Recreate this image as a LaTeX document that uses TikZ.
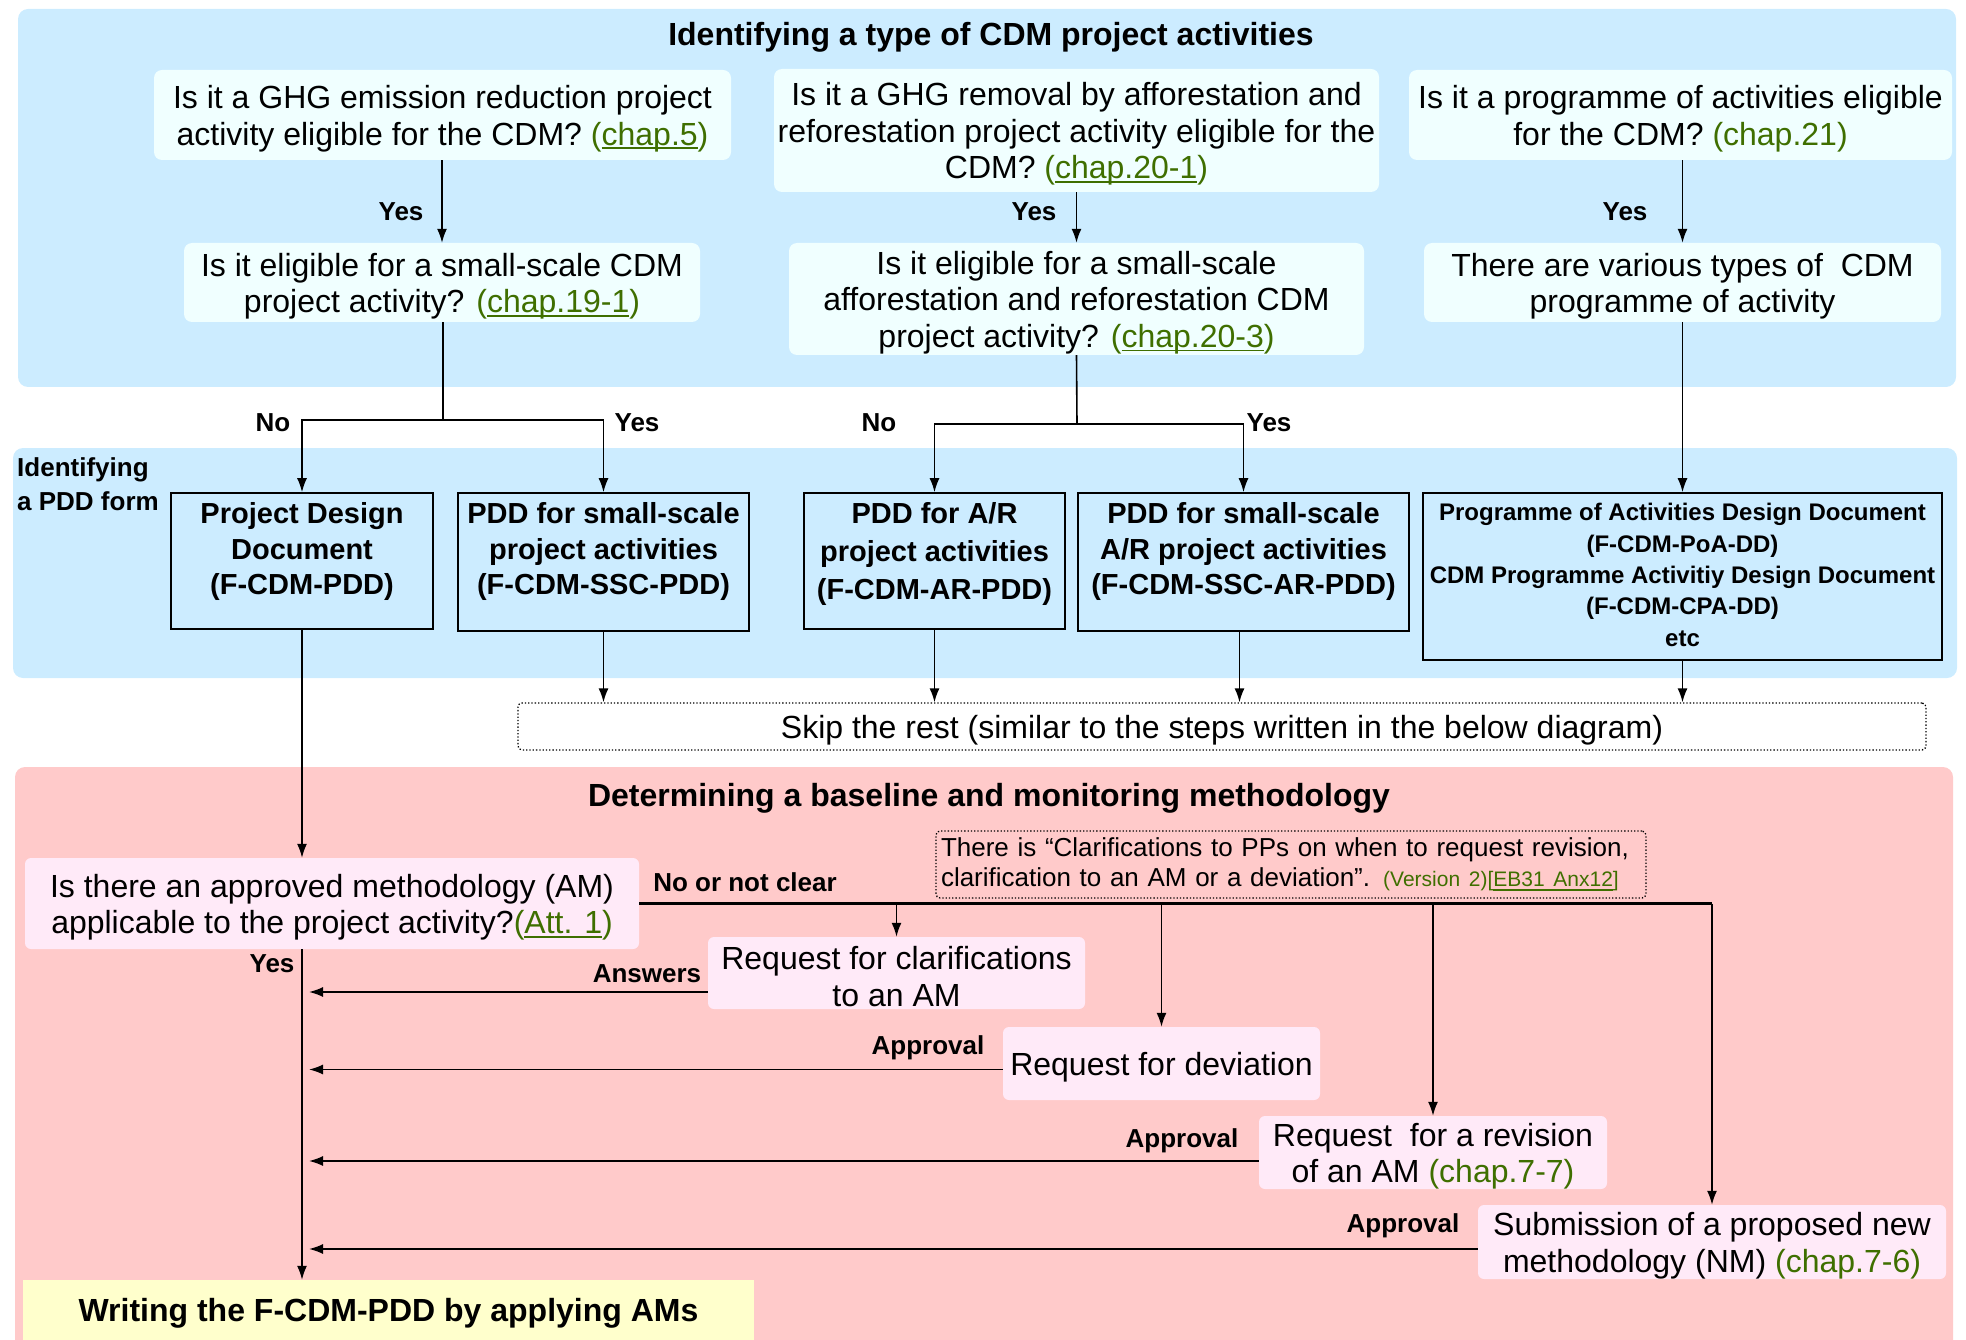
\documentclass[tikz,border=0pt]{standalone}
\usepackage{fontspec}
\setmainfont{Liberation Sans}
\usetikzlibrary{arrows.meta}
\definecolor{panelblue}{HTML}{CCECFF}
\definecolor{qbg}{HTML}{F0FFFF}
\definecolor{pinkbg}{HTML}{FFCACA}
\definecolor{pbox}{HTML}{FFEAF8}
\definecolor{ybox}{HTML}{FFFFCC}
\definecolor{grn}{HTML}{3F6F00}
\newcommand\fsz[2]{\fontsize{#1}{#2}\selectfont}
\newsavebox\ulbox
\newcommand\myul[1]{\sbox\ulbox{#1}\rlap{\rule[-4pt]{\wd\ulbox}{1.6pt}}\usebox\ulbox}
\newcommand\lnk[1]{{\color{grn}(\myul{#1})}}
\newcommand\plk[1]{{\color{grn}(#1)}}
% box with separately placed text: name, style, width, height, position, text
\newcommand\bx[6]{%
  \node[#2, minimum width=#3pt, minimum height=#4pt] (#1) at #5 {};
  \node[#2txt] (#1t) at ([yshift=-3.5pt]#1.center) {#6};}
\tikzset{
  qbox/.style={fill=qbg, rounded corners=8pt, inner sep=0pt},
  qboxtxt/.style={align=center, inner sep=0pt, font=\fsz{32}{36.5}},
  pddbox/.style={draw, line width=1.6pt, fill=panelblue, inner sep=0pt},
  pddtxt/.style={font=\bfseries\fsz{29}{35.5}, align=center, inner sep=0pt, anchor=north},
  pinkbox/.style={fill=pbox, rounded corners=6pt, inner sep=0pt},
  pinkboxtxt/.style={align=center, inner sep=0pt, font=\fsz{32}{36.5}},
  lbl/.style={font=\bfseries\fsz{26}{30}, inner sep=0pt},
  ttl/.style={font=\bfseries\fsz{32}{36}, inner sep=0pt},
  arr/.style={line width=1.6pt, -{Latex[length=14pt,width=10pt]}},
  ln/.style={line width=1.6pt},
  dotbox/.style={draw, dotted, line width=1.3pt, rounded corners=4pt, inner sep=0pt}
}
\begin{document}
\begin{tikzpicture}[x=1pt,y=-1pt]
\useasboundingbox (0,0) rectangle (1966,1340);
% panels
\fill[panelblue, rounded corners=10pt] (18,9) rectangle (1956,387);
\fill[panelblue, rounded corners=10pt] (13,448) rectangle (1957,678);
\begin{scope}
\clip (0,0) rectangle (1966,1340);
\fill[pinkbg, rounded corners=10pt] (15,767) rectangle (1953,1370);
\end{scope}
% titles
\node[ttl] (t1) at (991,37) {Identifying a type of CDM project activities};
\node[ttl] (t3) at (989,798) {Determining a baseline and monitoring methodology};
\node[lbl, anchor=north west, align=left, font=\bfseries\fsz{26}{34}] (t2) at (17,457) {Identifying\\a PDD form};
% top questions
\bx{a1}{qbox}{577}{90}{(442.5,115)}
  {Is it a GHG emission reduction project\\activity eligible for the CDM? \lnk{chap.5}}
\bx{a2}{qbox}{516}{79}{(442,282.5)}
  {Is it eligible for a small-scale CDM\\project activity? \lnk{chap.19-1}}
\bx{b1}{qbox}{605}{123}{(1076.5,130.5)}
  {Is it a GHG removal by afforestation and\\reforestation project activity eligible for the\\CDM? \lnk{chap.20-1}}
\bx{b2}{qbox}{575}{112}{(1076.5,299)}
  {Is it eligible for a small-scale\\afforestation and reforestation CDM\\project activity? \lnk{chap.20-3}}
\bx{c1}{qbox}{543}{90}{(1680.5,115)}
  {Is it a programme of activities eligible\\for the CDM? \plk{chap.21}}
\bx{c2}{qbox}{517}{79}{(1682.5,282.5)}
  {There are various types of\ \ CDM\\programme of activity}
% PDD boxes
\node[pddbox, minimum width=262pt, minimum height=136pt] (p1) at (302,561) {};
\node[pddtxt] (p1t) at ([yshift=-10.5pt]p1.north) {Project Design\\Document\\(F-CDM-PDD)};
\node[pddbox, minimum width=291pt, minimum height=138pt] (p2) at (603.5,562) {};
\node[pddtxt] (p2t) at ([yshift=-10.5pt]p2.north) {PDD for small-scale\\project activities\\(F-CDM-SSC-PDD)};
\node[pddbox, minimum width=261pt, minimum height=136pt] (p3) at (934.5,561) {};
\node[pddtxt, font=\bfseries\fsz{29}{38}] (p3t) at ([yshift=-10.5pt]p3.north) {PDD for A/R\\project activities\\(F-CDM-AR-PDD)};
\node[pddbox, minimum width=331pt, minimum height=138pt] (p4) at (1243.5,562) {};
\node[pddtxt] (p4t) at ([yshift=-10.5pt]p4.north) {PDD for small-scale\\A/R project activities\\(F-CDM-SSC-AR-PDD)};
\node[pddbox, minimum width=519pt, minimum height=167pt] (p5) at (1682.5,576.5) {};
\node[align=center, inner sep=0pt, font=\bfseries\fsz{24}{31.3}] (p5t) at ([yshift=1.5pt]p5.center)
  {Programme of Activities Design Document\\(F-CDM-PoA-DD)\\CDM Programme Activitiy Design Document\\(F-CDM-CPA-DD)\\etc};
% skip box
\node[dotbox, fill=white, minimum width=1408pt, minimum height=47pt] (skip) at (1222,726.5) {};
\node[inner sep=0pt, font=\fsz{32}{36}] (skipt) at ([yshift=-3.5pt]skip.center)
  {Skip the rest (similar to the steps written in the below diagram)};
% bottom part
\bx{q}{pinkbox}{614}{91}{(332,903.5)}
  {Is there an approved methodology (AM)\\applicable to the project activity?\lnk{Att. 1}}
\node[dotbox, text width=700pt, align=left, minimum height=67pt, inner xsep=5pt, font=\fsz{26}{30}] (note) at (1291,864.5)
  {There is “Clarifications to PPs on when to request revision,\\clarification to an AM or a deviation”. {\fsz{21}{30}\color{grn}(Version 2)[\myul{EB31 Anx12}]}};
\bx{r1}{pinkbox}{377}{72}{(896.5,973)}
  {Request for clarifications\\to an AM}
\bx{r2}{pinkbox}{317}{73}{(1161.5,1063.5)}
  {Request for deviation}
\bx{r3}{pinkbox}{348}{73}{(1433,1152.5)}
  {Request\ \ for a revision\\of an AM \plk{chap.7-7}}
\bx{r4}{pinkbox}{468}{74}{(1712,1242)}
  {Submission of a proposed new\\methodology (NM) \plk{chap.7-6}}
\node[fill=ybox, minimum width=731pt, minimum height=60pt, inner sep=0pt] (w) at (388.5,1310) {};
\node[inner sep=0pt, font=\bfseries\fsz{32}{36}] (wt) at ([yshift=-3.5pt]w.center)
  {Writing the F-CDM-PDD by applying AMs};
% connectors top
\draw[arr] (a1.south -| a2.north) -- (a2.north);
\draw[arr] (b1.south) -- (b2.north);
\draw[arr] (c1.south -| c2.north) -- (c2.north);
\coordinate (ja) at (443,420);
\coordinate (jb) at (1077,424);
\draw[ln] (a2.south -| ja) -- (ja);
\draw[arr] (ja) -| (p1.north);
\draw[arr] (ja) -| (p2.north);
\draw[ln] (b2.south) -- (jb);
\draw[arr] (jb) -| (p3.north);
\draw[arr] (jb) -| (p4.north);
\draw[arr] (c2.south) -- (p5.north);
\node[lbl] (y1) at (401,212) {Yes};
\node[lbl] (y2) at (1034,212) {Yes};
\node[lbl] (y3) at (1625,212) {Yes};
\node[lbl] (n1) at (273,423) {No};
\node[lbl] (y4) at (637,423) {Yes};
\node[lbl] (n2) at (879,423) {No};
\node[lbl] (y5) at (1269,423) {Yes};
% to skip
\draw[arr] (p2.south) -- (p2.south |- skip.north);
\draw[arr] (p3.south) -- (p3.south |- skip.north);
\draw[arr] ([xshift=-4pt]p4.south) -- ([xshift=-4pt]p4.south |- skip.north);
\draw[arr] (p5.south) -- (p5.south |- skip.north);
% to question
\draw[arr] (p1.south) -- (p1.south |- q.north);
% branch
\draw[line width=2.4pt] (q.east) -- (q.east -| r4.north);
\draw[arr] (q.east -| r4.north) -- (r4.north);
\draw[arr] (q.east -| r1.north) -- (r1.north);
\draw[arr] (q.east -| r2.north) -- (r2.north);
\draw[arr] (q.east -| r3.north) -- (r3.north);
\node[lbl] (nc) at (745,882) {No or not clear};
% main line
\draw[arr] (p1.south |- q.south) -- (p1.south |- w.north);
\node[lbl] (yq) at (272,964) {Yes};
% returns
\draw[arr, shorten >=7pt] ([yshift=-19pt]r1.west) -- ([yshift=-19pt]r1.west -| p1.south);
\draw[arr, shorten >=7pt] ([yshift=-6pt]r2.west) -- ([yshift=-6pt]r2.west -| p1.south);
\draw[arr, shorten >=7pt] ([yshift=-8.5pt]r3.west) -- ([yshift=-8.5pt]r3.west -| p1.south);
\draw[arr, shorten >=7pt] ([yshift=-7pt]r4.west) -- ([yshift=-7pt]r4.west -| p1.south);
\node[lbl] (an) at (647,974) {Answers};
\node[lbl] (ap1) at (928,1048) {Approval};
\node[lbl] (ap2) at (1182,1141) {Approval};
\node[lbl] (ap3) at (1403,1226) {Approval};
\end{tikzpicture}
\end{document}
